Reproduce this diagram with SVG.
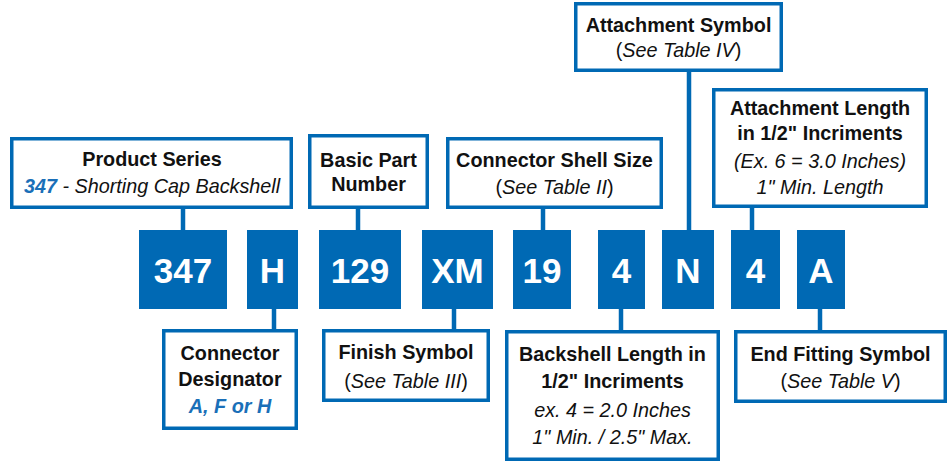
<svg xmlns="http://www.w3.org/2000/svg" width="948" height="462" viewBox="0 0 948 462">
<style>
.box{fill:#fff;stroke:#0069b4;stroke-width:3.5}
.code{fill:#0069b4}
.ct{font-family:"Liberation Sans",Arial,sans-serif;font-weight:bold;font-size:35px;fill:#fff;text-anchor:middle}
.t{font-family:"Liberation Sans",Arial,sans-serif;font-size:19.8px;fill:#111;text-anchor:middle}
.b{font-weight:bold}
.i{font-style:italic}
.blue{fill:#1a6fb8}
.conn line{stroke:#0069b4;stroke-width:4.5}
</style>
<rect width="948" height="462" fill="#fff"/>
<g class="conn">
<line x1="183" y1="209" x2="183" y2="231"/>
<line x1="358" y1="209" x2="358" y2="231"/>
<line x1="543" y1="209" x2="543" y2="231"/>
<line x1="689" y1="72" x2="689" y2="231"/>
<line x1="752" y1="208" x2="752" y2="231"/>
<line x1="274" y1="308" x2="274" y2="330"/>
<line x1="454" y1="308" x2="454" y2="330"/>
<line x1="621" y1="308" x2="621" y2="331"/>
<line x1="820" y1="308" x2="820" y2="331"/>
</g>
<g id="code-347"><rect class="code" x="139" y="230" width="88" height="79"/><text class="ct" x="183" y="283">347</text></g>
<g id="code-H"><rect class="code" x="247" y="230" width="51" height="79"/><text class="ct" x="272.5" y="283">H</text></g>
<g id="code-129"><rect class="code" x="319" y="230" width="82" height="79"/><text class="ct" x="360" y="283">129</text></g>
<g id="code-XM"><rect class="code" x="422" y="230" width="71" height="79"/><text class="ct" x="457.5" y="283">XM</text></g>
<g id="code-19"><rect class="code" x="513" y="230" width="58" height="79"/><text class="ct" x="542" y="283">19</text></g>
<g id="code-4a"><rect class="code" x="598" y="230" width="47" height="79"/><text class="ct" x="621.5" y="283">4</text></g>
<g id="code-N"><rect class="code" x="662" y="230" width="52" height="79"/><text class="ct" x="688" y="283">N</text></g>
<g id="code-4b"><rect class="code" x="731" y="230" width="49" height="79"/><text class="ct" x="755.5" y="283">4</text></g>
<g id="code-A"><rect class="code" x="797" y="230" width="48" height="79"/><text class="ct" x="821" y="283">A</text></g>

<g id="product-series"><rect class="box" x="11.75" y="138.75" width="279.5" height="68.5"/>
<text class="t b" x="152" y="166">Product Series</text>
<text class="t i" x="152" y="193"><tspan class="b blue">347</tspan> - Shorting Cap Backshell</text></g>

<g id="basic-part"><rect class="box" x="309.75" y="135.75" width="117.5" height="71.5"/>
<text class="t b" x="368.5" y="166.5">Basic Part</text>
<text class="t b" x="368.5" y="190.5">Number</text></g>

<g id="shell-size"><rect class="box" x="447.75" y="138.75" width="213.5" height="68.5"/>
<text class="t b" x="554.5" y="166.5">Connector Shell Size</text>
<text class="t" x="554.5" y="194">(<tspan class="i">See Table II</tspan>)</text></g>

<g id="attach-symbol"><rect class="box" x="575.75" y="3.75" width="205.5" height="66.5"/>
<text class="t b" x="678.5" y="31.5">Attachment Symbol</text>
<text class="t" x="678.5" y="56.5">(<tspan class="i">See Table IV</tspan>)</text></g>

<g id="attach-length"><rect class="box" x="713.75" y="89.75" width="212.5" height="116.5"/>
<text class="t b" x="820" y="115">Attachment Length</text>
<text class="t b" x="820" y="139.5">in 1/2" Incriments</text>
<text class="t i" x="820" y="168">(Ex. 6 = 3.0 Inches)</text>
<text class="t i" x="820" y="194">1" Min. Length</text></g>

<g id="designator"><rect class="box" x="163.75" y="330.75" width="132.5" height="97.5"/>
<text class="t b" x="230" y="360">Connector</text>
<text class="t b" x="230" y="386">Designator</text>
<text class="t b i blue" x="230" y="413">A, F or H</text></g>

<g id="finish"><rect class="box" x="323.75" y="330.75" width="164.5" height="69.5"/>
<text class="t b" x="406" y="358.5">Finish Symbol</text>
<text class="t" x="406" y="388">(<tspan class="i">See Table III</tspan>)</text></g>

<g id="backshell-length"><rect class="box" x="506.75" y="331.75" width="211.5" height="127.5"/>
<text class="t b" x="612.5" y="361">Backshell Length in</text>
<text class="t b" x="612.5" y="387.5">1/2" Incriments</text>
<text class="t i" x="612.5" y="417">ex. 4 = 2.0 Inches</text>
<text class="t i" x="612.5" y="444">1" Min. / 2.5" Max.</text></g>

<g id="end-fitting"><rect class="box" x="735.75" y="331.75" width="209.5" height="69.5"/>
<text class="t b" x="840.5" y="361">End Fitting Symbol</text>
<text class="t" x="840.5" y="388">(<tspan class="i">See Table V</tspan>)</text></g>
</svg>
